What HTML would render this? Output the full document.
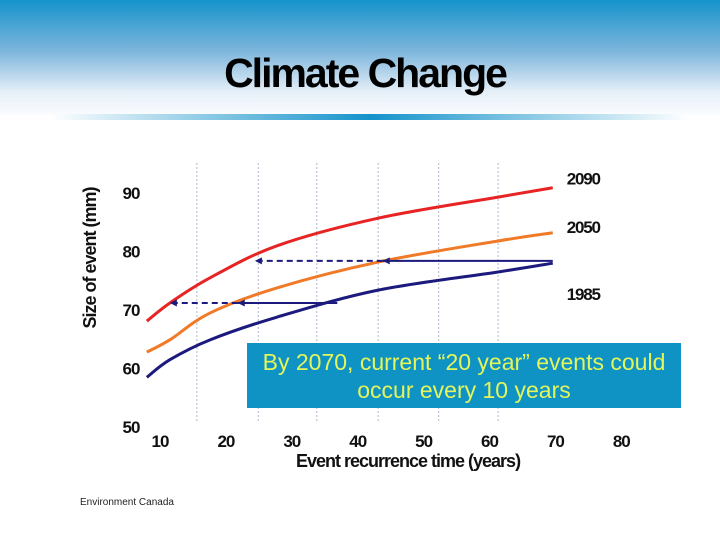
<!DOCTYPE html>
<html><head><meta charset="utf-8"><style>
body{margin:0;width:720px;height:540px;overflow:hidden;background:#fff;font-family:"Liberation Sans",sans-serif;}
</style></head><body>
<svg id="chart" width="720" height="540" viewBox="0 0 720 540" xmlns="http://www.w3.org/2000/svg">
<defs>
<linearGradient id="hdr" x1="0" y1="0" x2="0" y2="1">
<stop offset="0" stop-color="#1593cb"/><stop offset="0.45" stop-color="#7fb6dc"/><stop offset="0.8" stop-color="#e6eff8"/><stop offset="1" stop-color="#fafcfe"/></linearGradient>
<linearGradient id="bar" x1="0" y1="0" x2="1" y2="0">
<stop offset="0" stop-color="#fff"/><stop offset="0.5" stop-color="#1593cb"/><stop offset="1" stop-color="#fff"/></linearGradient>
</defs>
<rect x="0" y="0" width="720" height="115" fill="url(#hdr)"/>
<rect x="50" y="114" width="640" height="6" fill="url(#bar)"/>
<text x="365" y="87" text-anchor="middle" font-size="41" font-weight="bold" letter-spacing="-2" fill="#000">Climate Change</text>
<g id="grid"></g>
<g id="plot"></g>
<text transform="translate(96,258) rotate(-90)" text-anchor="middle" font-size="18" font-weight="bold" letter-spacing="-1" fill="#111">Size of event (mm)</text>
<text x="408" y="467" text-anchor="middle" font-size="18" font-weight="bold" letter-spacing="-1" fill="#111">Event recurrence time (years)</text>
<text x="80" y="505" font-size="10" fill="#222">Environment Canada</text>
<rect x="247" y="343" width="434" height="65" fill="#0f93c4"/>
<text x="464" y="370" text-anchor="middle" font-size="23" fill="#e4f55c">By 2070, current “20 year” events could</text>
<text x="464" y="398" text-anchor="middle" font-size="23" fill="#e4f55c">occur every 10 years</text>
</svg>
<script>
const xTicks=[10,20,30,40,50,60,70,80];
const yTicks=[50,60,70,80,90];
const years=[8.0,11.5,17.6,27.8,43.1,61.3,69.6];
const s2090=[68.1,71.2,75.5,81.0,85.7,89.3,90.9];
const s2050=[62.8,64.9,69.5,73.8,78.2,81.8,83.2];
const s1985=[58.5,61.5,64.9,68.8,73.4,76.5,78.0];
const seriesNames=["2090","2050","1985"];
const arrowLevels=[78.4,71.2];
const arrowSolidFrom=[69.6,36.9];
const arrowSolidTo=[43.8,21.8];
const arrowDashTo=[24.4,11.5];
const gridYears=[15.6,24.9,33.8,43.1,52.3,61.3];

const X=v=>160+(v-10)*6.59;
const Y=v=>427-(v-50)*5.85;
const NS="http://www.w3.org/2000/svg";
const plot=document.getElementById('plot'), grid=document.getElementById('grid');
function mk(tag,attrs,parent){const e=document.createElementNS(NS,tag);for(const k in attrs)e.setAttribute(k,attrs[k]);parent.appendChild(e);return e;}

gridYears.forEach(g=>{
 const l=mk('line',{x1:X(g),x2:X(g),y1:163,y2:422,stroke:'#9aa6c0','stroke-width':0.8,'stroke-dasharray':'2,2'},grid);
 
 
});
xTicks.forEach(t=>{
 const e=mk('text',{x:X(t),y:447,'text-anchor':'middle','font-size':17,'font-weight':'bold','letter-spacing':'-1',fill:'#111'},plot);
 e.textContent=t;
 
 
});
yTicks.forEach(t=>{
 const e=mk('text',{x:131,y:Y(t)+6,'text-anchor':'middle','font-size':17,'font-weight':'bold','letter-spacing':'-1',fill:'#111'},plot);
 e.textContent=t;
 
 
});
function curve(vals,color,name){
 const pts=years.map((y,i)=>[X(y),Y(vals[i])]);
 let d='M'+pts[0][0]+','+pts[0][1];
 for(let i=1;i<pts.length;i++){
  const p0=pts[Math.max(0,i-2)],p1=pts[i-1],p2=pts[i],p3=pts[Math.min(pts.length-1,i+1)];
  const c1=[p1[0]+(p2[0]-p0[0])/6,p1[1]+(p2[1]-p0[1])/6],c2=[p2[0]-(p3[0]-p1[0])/6,p2[1]-(p3[1]-p1[1])/6];
  d+=' C'+c1+' '+c2+' '+p2;
 }
 const p=mk('path',{d:d,fill:'none',stroke:color,'stroke-width':3},plot);
 
 
}
curve(s1985,'#1c1a7c','line-1985');
curve(s2050,'#f07a28','line-2050');
curve(s2090,'#e82323','line-2090');
const lastX=years[years.length-1];
const labelVals=[s2090,s2050,s1985];
const labelOff=[-3,0,37];
seriesNames.forEach((n,i)=>{
 const v=labelVals[i][labelVals[i].length-1];
 const t=mk('text',{x:X(lastX)+47,y:Y(v)+labelOff[i],'text-anchor':'end','font-size':17,'font-weight':'bold','letter-spacing':'-1.2',fill:'#111'},plot);
 t.textContent=n;
 
 
});
arrowLevels.forEach((lv,i)=>{
 const y=Y(lv);
 const s=mk('line',{x1:X(arrowSolidFrom[i]),x2:X(arrowSolidTo[i]),y1:y,y2:y,stroke:'#1c1a7c','stroke-width':2},plot);
 
 
 const d=mk('line',{x1:X(arrowSolidTo[i]),x2:X(arrowDashTo[i]),y1:y,y2:y,stroke:'#1c1a7c','stroke-width':2,'stroke-dasharray':'6,4'},plot);
 
 
 [arrowSolidTo[i],arrowDashTo[i]].forEach(a=>{
  const x=X(a);
  const h=mk('path',{d:`M${x},${y} l7,-3.5 l0,7 z`,fill:'#1c1a7c'},plot);
  
  
 });
});
</script>
</body></html>
